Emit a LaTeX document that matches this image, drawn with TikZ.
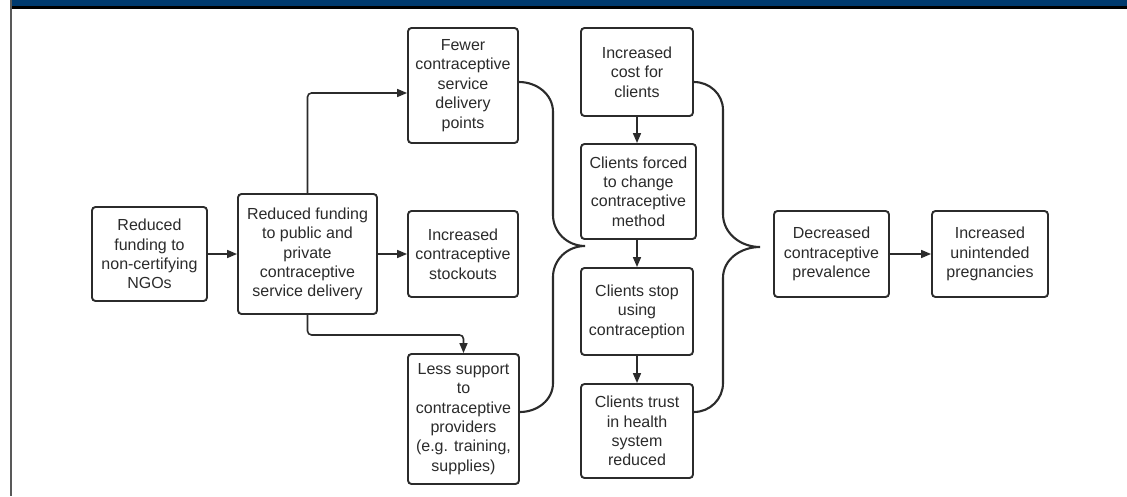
\documentclass[tikz,border=0pt]{standalone}
\usepackage{fontspec}
\setmainfont{Liberation Sans}
\usetikzlibrary{arrows.meta,calc}
\definecolor{barblue}{HTML}{003A6E}
\definecolor{ink}{HTML}{2B2B2B}
\begin{document}
\begin{tikzpicture}[x=1pt,y=-1pt,
  box/.style={draw=ink,line width=1.9pt,rounded corners=3.5pt,align=center,
    font=\fontsize{16}{19.4}\selectfont,text=ink,inner sep=0pt},
  arr/.style={draw=ink,line width=1.6pt,-{Triangle[length=10pt,width=8pt]}},
  brace/.style={draw=ink,line width=2.1pt}]
\useasboundingbox (0,0) rectangle (1127,496);
\fill[white] (0,0) rectangle (1127,496);
\fill[barblue] (10,0) rectangle (1127,6);
\fill[black] (10,6) rectangle (1127,8.5);
\fill[gray!70!black] (10,0) rectangle (11.5,496);

\node[box,minimum width=115pt,minimum height=94pt] (A) at (149.5,254) {Reduced\\funding to\\non-certifying\\NGOs};
\node[box,minimum width=139pt,minimum height=120pt] (B) at (307.5,254) {Reduced funding\\to public and\\private\\contraceptive\\service delivery};
\node[box,minimum width=110pt,minimum height=86pt] (C) at (463,254) {Increased\\contraceptive\\stockouts};
\node[box,minimum width=110pt,minimum height=115pt] (D) at (463,85.5) {Fewer\\contraceptive\\service\\delivery\\points};
\node[box,minimum width=111pt,minimum height=130pt] (E) at (463.5,419) {Less support\\to\\contraceptive\\providers\\(e.g. training,\\supplies)};
\node[box,minimum width=112pt,minimum height=88pt] (F) at (637,72) {Increased\\cost for\\clients};
\node[box,minimum width=115pt,minimum height=95pt] (G) at (638.5,191.5) {Clients forced\\to change\\contraceptive\\method};
\node[box,minimum width=112pt,minimum height=87pt] (H) at (637,311.5) {Clients stop\\using\\contraception};
\node[box,minimum width=112pt,minimum height=94pt] (I) at (637,431) {Clients trust\\in health\\system\\reduced};
\node[box,minimum width=115pt,minimum height=86pt] (J) at (831.5,254) {Decreased\\contraceptive\\prevalence};
\node[box,minimum width=116pt,minimum height=86pt] (K) at (990,254) {Increased\\unintended\\pregnancies};

\coordinate (t1) at (585,246);
\coordinate (t2) at (760,247);

\draw[arr] (A) -- (B);
\draw[arr] (B) -- (C);
\draw[arr,rounded corners=4pt] (B.north) |- ([yshift=-7.5pt]D.west);
\draw[arr,rounded corners=4pt] (B.south) -- ++(0,20) -| (E.north);
\draw[arr] (F) -- (F|-G.north);
\draw[arr] (F|-G.south) -- (H);
\draw[arr] (H) -- (I);
\draw[arr] (J) -- (K);

\draw[brace] ([yshift=3.5pt]D.east) to[out=0,in=90] (553,112) -- (553,215)
  to[out=-90,in=180] (t1) to[out=180,in=90] (553,277) -- (553,383)
  to[out=-90,in=0] ([yshift=7pt]E.east);
\draw[brace] ([yshift=-10pt]F.east) to[out=0,in=90] (723,110) -- (723,214)
  to[out=-90,in=180] (t2) to[out=180,in=90] (723,278) -- (723,383)
  to[out=-90,in=0] ([yshift=19pt]I.east);
\end{tikzpicture}
\end{document}
